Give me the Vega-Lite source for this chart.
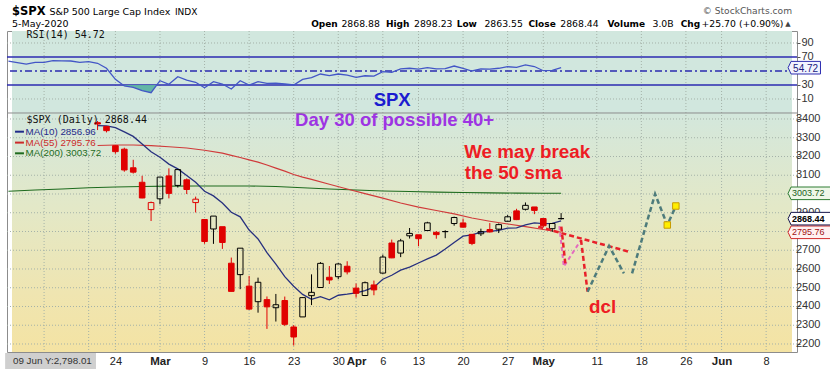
{
"$schema": "https://vega.github.io/schema/vega-lite/v6.json",
"width": 790,
"height": 321,
"autosize": {"type": "none"},
"padding": {"left": 7, "top": 31, "right": 33, "bottom": 17},
"background": "#ffffff",
"config": {"view": {"stroke": "#8c8c8c", "strokeWidth": 1}, "axis": {"labelOverlap": false, "labelBound": false}},
"datasets": {
"panels": [{"panel": "RSI"}, {"panel": "Price"}],
"xticks": [{"idx": -8}, {"idx": -3}, {"idx": 0}, {"idx": 5}, {"idx": 10}, {"idx": 15}, {"idx": 20}, {"idx": 25}, {"idx": 27}, {"idx": 30}, {"idx": 34}, {"idx": 39}, {"idx": 44}, {"idx": 48}, {"idx": 54}, {"idx": 59}, {"idx": 64}, {"idx": 68}, {"idx": 73}],
"pgrid": [{"price": 2200}, {"price": 2300}, {"price": 2400}, {"price": 2500}, {"price": 2600}, {"price": 2700}, {"price": 2800}, {"price": 2900}, {"price": 3000}, {"price": 3100}, {"price": 3200}, {"price": 3300}, {"price": 3400}],
"rsiLevels": [{"rsi": 90, "kind": "grid"}, {"rsi": 70, "kind": "overbought"}, {"rsi": 50, "kind": "mid"}, {"rsi": 30, "kind": "oversold"}, {"rsi": 10, "kind": "grid"}],
"rsi": [{"idx": -12, "rsi": 64.0}, {"idx": -11, "rsi": 62.0}, {"idx": -10, "rsi": 59.8}, {"idx": -9, "rsi": 62.4}, {"idx": -8, "rsi": 62.4}, {"idx": -7, "rsi": 64.7}, {"idx": -6, "rsi": 64.5}, {"idx": -5, "rsi": 64.3}, {"idx": -4, "rsi": 62.4}, {"idx": -3, "rsi": 63.3}, {"idx": -2, "rsi": 61.0}, {"idx": -1, "rsi": 53.9}, {"idx": 0, "rsi": 38.1}, {"idx": 1, "rsi": 28.6}, {"idx": 2, "rsi": 26.7}, {"idx": 3, "rsi": 21.9}, {"idx": 4, "rsi": 19.0}, {"idx": 5, "rsi": 36.1}, {"idx": 6, "rsi": 31.0}, {"idx": 7, "rsi": 41.9}, {"idx": 8, "rsi": 37.1}, {"idx": 9, "rsi": 33.9}, {"idx": 10, "rsi": 26.1}, {"idx": 11, "rsi": 34.7}, {"idx": 12, "rsi": 31.4}, {"idx": 13, "rsi": 24.3}, {"idx": 14, "rsi": 36.1}, {"idx": 15, "rsi": 30.0}, {"idx": 16, "rsi": 34.7}, {"idx": 17, "rsi": 32.4}, {"idx": 18, "rsi": 32.8}, {"idx": 19, "rsi": 31.4}, {"idx": 20, "rsi": 30.0}, {"idx": 21, "rsi": 38.1}, {"idx": 22, "rsi": 40.4}, {"idx": 23, "rsi": 45.7}, {"idx": 24, "rsi": 43.3}, {"idx": 25, "rsi": 45.7}, {"idx": 26, "rsi": 44.0}, {"idx": 27, "rsi": 41.0}, {"idx": 28, "rsi": 43.2}, {"idx": 29, "rsi": 42.6}, {"idx": 30, "rsi": 49.0}, {"idx": 31, "rsi": 48.1}, {"idx": 32, "rsi": 52.9}, {"idx": 33, "rsi": 53.9}, {"idx": 34, "rsi": 52.6}, {"idx": 35, "rsi": 54.7}, {"idx": 36, "rsi": 52.9}, {"idx": 37, "rsi": 53.4}, {"idx": 38, "rsi": 57.1}, {"idx": 39, "rsi": 53.8}, {"idx": 40, "rsi": 50.0}, {"idx": 41, "rsi": 52.9}, {"idx": 42, "rsi": 52.7}, {"idx": 43, "rsi": 53.9}, {"idx": 44, "rsi": 56.1}, {"idx": 45, "rsi": 55.2}, {"idx": 46, "rsi": 58.6}, {"idx": 47, "rsi": 56.4}, {"idx": 48, "rsi": 50.4}, {"idx": 49, "rsi": 51.0}, {"idx": 50, "rsi": 54.72}],
"rsiShade": [{"idx": 0.85, "rsi": 30}, {"idx": 1, "rsi": 28.6}, {"idx": 2, "rsi": 26.7}, {"idx": 3, "rsi": 21.9}, {"idx": 4, "rsi": 19.0}, {"idx": 4.64, "rsi": 30}],
"candles": [
{"idx": -2, "date": "2020-02-20", "open": 3380.39, "high": 3389.15, "low": 3341.02, "close": 3373.23, "vsPrev": "down"},
{"idx": -1, "date": "2020-02-21", "open": 3360.50, "high": 3360.76, "low": 3328.45, "close": 3337.75, "vsPrev": "down"},
{"idx": 0, "date": "2020-02-24", "open": 3257.61, "high": 3259.81, "low": 3214.65, "close": 3225.89, "vsPrev": "down"},
{"idx": 1, "date": "2020-02-25", "open": 3238.94, "high": 3246.99, "low": 3118.77, "close": 3128.21, "vsPrev": "down"},
{"idx": 2, "date": "2020-02-26", "open": 3139.90, "high": 3182.51, "low": 3108.99, "close": 3116.39, "vsPrev": "down"},
{"idx": 3, "date": "2020-02-27", "open": 3062.54, "high": 3097.07, "low": 2977.39, "close": 2978.76, "vsPrev": "down"},
{"idx": 4, "date": "2020-02-28", "open": 2916.90, "high": 2959.72, "low": 2855.84, "close": 2954.22, "vsPrev": "down"},
{"idx": 5, "date": "2020-03-02", "open": 2974.28, "high": 3090.96, "low": 2945.19, "close": 3090.23, "vsPrev": "up"},
{"idx": 6, "date": "2020-03-03", "open": 3096.46, "high": 3136.72, "low": 2976.63, "close": 3003.37, "vsPrev": "down"},
{"idx": 7, "date": "2020-03-04", "open": 3045.75, "high": 3130.97, "low": 3034.38, "close": 3130.12, "vsPrev": "up"},
{"idx": 8, "date": "2020-03-05", "open": 3075.70, "high": 3083.04, "low": 2999.83, "close": 3023.94, "vsPrev": "down"},
{"idx": 9, "date": "2020-03-06", "open": 2954.20, "high": 2985.93, "low": 2901.54, "close": 2972.37, "vsPrev": "down"},
{"idx": 10, "date": "2020-03-09", "open": 2863.89, "high": 2863.89, "low": 2734.43, "close": 2746.56, "vsPrev": "down"},
{"idx": 11, "date": "2020-03-10", "open": 2813.48, "high": 2882.59, "low": 2734.00, "close": 2882.23, "vsPrev": "up"},
{"idx": 12, "date": "2020-03-11", "open": 2825.60, "high": 2825.60, "low": 2707.22, "close": 2741.38, "vsPrev": "down"},
{"idx": 13, "date": "2020-03-12", "open": 2630.86, "high": 2660.95, "low": 2478.86, "close": 2480.64, "vsPrev": "down"},
{"idx": 14, "date": "2020-03-13", "open": 2569.99, "high": 2711.33, "low": 2492.37, "close": 2711.02, "vsPrev": "up"},
{"idx": 15, "date": "2020-03-16", "open": 2508.59, "high": 2562.98, "low": 2380.94, "close": 2386.13, "vsPrev": "down"},
{"idx": 16, "date": "2020-03-17", "open": 2425.66, "high": 2553.93, "low": 2367.04, "close": 2529.19, "vsPrev": "up"},
{"idx": 17, "date": "2020-03-18", "open": 2436.50, "high": 2453.57, "low": 2280.52, "close": 2398.10, "vsPrev": "down"},
{"idx": 18, "date": "2020-03-19", "open": 2393.48, "high": 2466.97, "low": 2319.78, "close": 2409.39, "vsPrev": "up"},
{"idx": 19, "date": "2020-03-20", "open": 2431.94, "high": 2453.01, "low": 2295.56, "close": 2304.92, "vsPrev": "down"},
{"idx": 20, "date": "2020-03-23", "open": 2290.71, "high": 2300.73, "low": 2191.86, "close": 2237.40, "vsPrev": "down"},
{"idx": 21, "date": "2020-03-24", "open": 2344.44, "high": 2449.71, "low": 2344.44, "close": 2447.33, "vsPrev": "up"},
{"idx": 22, "date": "2020-03-25", "open": 2457.77, "high": 2571.42, "low": 2407.53, "close": 2475.56, "vsPrev": "up"},
{"idx": 23, "date": "2020-03-26", "open": 2501.29, "high": 2637.01, "low": 2500.72, "close": 2630.07, "vsPrev": "up"},
{"idx": 24, "date": "2020-03-27", "open": 2555.87, "high": 2615.91, "low": 2520.02, "close": 2541.47, "vsPrev": "down"},
{"idx": 25, "date": "2020-03-30", "open": 2558.98, "high": 2631.80, "low": 2545.28, "close": 2626.65, "vsPrev": "up"},
{"idx": 26, "date": "2020-03-31", "open": 2614.69, "high": 2641.39, "low": 2571.15, "close": 2584.59, "vsPrev": "down"},
{"idx": 27, "date": "2020-04-01", "open": 2498.08, "high": 2522.75, "low": 2447.49, "close": 2470.50, "vsPrev": "down"},
{"idx": 28, "date": "2020-04-02", "open": 2458.54, "high": 2533.22, "low": 2455.79, "close": 2526.90, "vsPrev": "up"},
{"idx": 29, "date": "2020-04-03", "open": 2514.92, "high": 2538.18, "low": 2459.96, "close": 2488.65, "vsPrev": "down"},
{"idx": 30, "date": "2020-04-06", "open": 2578.28, "high": 2676.85, "low": 2574.57, "close": 2663.68, "vsPrev": "up"},
{"idx": 31, "date": "2020-04-07", "open": 2738.65, "high": 2756.89, "low": 2657.67, "close": 2659.41, "vsPrev": "down"},
{"idx": 32, "date": "2020-04-08", "open": 2685.00, "high": 2760.75, "low": 2663.30, "close": 2749.98, "vsPrev": "up"},
{"idx": 33, "date": "2020-04-09", "open": 2776.99, "high": 2818.57, "low": 2762.36, "close": 2789.82, "vsPrev": "up"},
{"idx": 34, "date": "2020-04-13", "open": 2782.46, "high": 2782.46, "low": 2721.17, "close": 2761.63, "vsPrev": "down"},
{"idx": 35, "date": "2020-04-14", "open": 2805.10, "high": 2851.85, "low": 2805.10, "close": 2846.06, "vsPrev": "up"},
{"idx": 36, "date": "2020-04-15", "open": 2795.64, "high": 2801.88, "low": 2761.54, "close": 2783.36, "vsPrev": "down"},
{"idx": 37, "date": "2020-04-16", "open": 2799.34, "high": 2806.51, "low": 2764.32, "close": 2799.55, "vsPrev": "up"},
{"idx": 38, "date": "2020-04-17", "open": 2842.43, "high": 2879.22, "low": 2830.88, "close": 2874.56, "vsPrev": "up"},
{"idx": 39, "date": "2020-04-20", "open": 2845.62, "high": 2868.98, "low": 2820.43, "close": 2823.16, "vsPrev": "down"},
{"idx": 40, "date": "2020-04-21", "open": 2784.81, "high": 2785.54, "low": 2727.10, "close": 2736.56, "vsPrev": "down"},
{"idx": 41, "date": "2020-04-22", "open": 2787.89, "high": 2815.10, "low": 2775.95, "close": 2799.31, "vsPrev": "up"},
{"idx": 42, "date": "2020-04-23", "open": 2810.42, "high": 2844.90, "low": 2794.26, "close": 2797.80, "vsPrev": "down"},
{"idx": 43, "date": "2020-04-24", "open": 2812.64, "high": 2842.71, "low": 2791.76, "close": 2836.74, "vsPrev": "up"},
{"idx": 44, "date": "2020-04-27", "open": 2854.65, "high": 2887.72, "low": 2852.89, "close": 2878.48, "vsPrev": "up"},
{"idx": 45, "date": "2020-04-28", "open": 2909.96, "high": 2921.15, "low": 2860.71, "close": 2863.39, "vsPrev": "down"},
{"idx": 46, "date": "2020-04-29", "open": 2918.46, "high": 2954.86, "low": 2912.16, "close": 2939.51, "vsPrev": "up"},
{"idx": 47, "date": "2020-04-30", "open": 2930.91, "high": 2930.91, "low": 2892.47, "close": 2912.43, "vsPrev": "down"},
{"idx": 48, "date": "2020-05-01", "open": 2869.09, "high": 2869.09, "low": 2821.61, "close": 2830.71, "vsPrev": "down"},
{"idx": 49, "date": "2020-05-04", "open": 2815.01, "high": 2844.24, "low": 2797.85, "close": 2842.74, "vsPrev": "up"},
{"idx": 50, "date": "2020-05-05", "open": 2868.88, "high": 2898.23, "low": 2863.55, "close": 2868.44, "vsPrev": "up"}
],
"ma10": [{"idx": -2, "v": 3364.66}, {"idx": -1, "v": 3363.85}, {"idx": 0, "v": 3353.67}, {"idx": 1, "v": 3331.28}, {"idx": 2, "v": 3307.15}, {"idx": 3, "v": 3267.08}, {"idx": 4, "v": 3225.11}, {"idx": 5, "v": 3196.11}, {"idx": 6, "v": 3159.42}, {"idx": 7, "v": 3133.82}, {"idx": 8, "v": 3098.89}, {"idx": 9, "v": 3062.35}, {"idx": 10, "v": 3014.42}, {"idx": 11, "v": 2989.82}, {"idx": 12, "v": 2952.32}, {"idx": 13, "v": 2902.51}, {"idx": 14, "v": 2878.19}, {"idx": 15, "v": 2807.78}, {"idx": 16, "v": 2760.36}, {"idx": 17, "v": 2687.16}, {"idx": 18, "v": 2625.70}, {"idx": 19, "v": 2558.96}, {"idx": 20, "v": 2508.04}, {"idx": 21, "v": 2464.55}, {"idx": 22, "v": 2437.97}, {"idx": 23, "v": 2452.91}, {"idx": 24, "v": 2435.96}, {"idx": 25, "v": 2460.01}, {"idx": 26, "v": 2465.55}, {"idx": 27, "v": 2472.79}, {"idx": 28, "v": 2484.54}, {"idx": 29, "v": 2502.91}, {"idx": 30, "v": 2545.54}, {"idx": 31, "v": 2566.75}, {"idx": 32, "v": 2594.19}, {"idx": 33, "v": 2610.17}, {"idx": 34, "v": 2632.18}, {"idx": 35, "v": 2654.12}, {"idx": 36, "v": 2674.00}, {"idx": 37, "v": 2706.90}, {"idx": 38, "v": 2741.67}, {"idx": 39, "v": 2775.12}, {"idx": 40, "v": 2782.41}, {"idx": 41, "v": 2796.40}, {"idx": 42, "v": 2801.18}, {"idx": 43, "v": 2805.87}, {"idx": 44, "v": 2817.56}, {"idx": 45, "v": 2819.29}, {"idx": 46, "v": 2834.91}, {"idx": 47, "v": 2846.19}, {"idx": 48, "v": 2841.81}, {"idx": 49, "v": 2843.77}, {"idx": 50, "v": 2856.96}],
"ma55": [{"idx": -2, "v": 3259}, {"idx": 0, "v": 3261}, {"idx": 2, "v": 3261}, {"idx": 4, "v": 3258}, {"idx": 6, "v": 3252}, {"idx": 8, "v": 3245}, {"idx": 10, "v": 3233}, {"idx": 12, "v": 3218}, {"idx": 13, "v": 3206}, {"idx": 14, "v": 3195}, {"idx": 15, "v": 3182}, {"idx": 16, "v": 3170}, {"idx": 17, "v": 3155}, {"idx": 18, "v": 3138}, {"idx": 19, "v": 3122}, {"idx": 20, "v": 3104}, {"idx": 21, "v": 3090}, {"idx": 22, "v": 3078}, {"idx": 24, "v": 3052}, {"idx": 26, "v": 3027}, {"idx": 28, "v": 3002}, {"idx": 30, "v": 2978}, {"idx": 32, "v": 2952}, {"idx": 34, "v": 2930}, {"idx": 36, "v": 2912}, {"idx": 38, "v": 2894}, {"idx": 40, "v": 2872}, {"idx": 42, "v": 2855}, {"idx": 44, "v": 2840}, {"idx": 46, "v": 2826}, {"idx": 48, "v": 2811}, {"idx": 50, "v": 2795.76}],
"ma200": [{"idx": -12, "v": 3015}, {"idx": -9, "v": 3021}, {"idx": -6, "v": 3027}, {"idx": -3, "v": 3033}, {"idx": 0, "v": 3037}, {"idx": 3, "v": 3040}, {"idx": 6, "v": 3042}, {"idx": 9, "v": 3043}, {"idx": 12, "v": 3043}, {"idx": 15, "v": 3043}, {"idx": 18, "v": 3040}, {"idx": 21, "v": 3033}, {"idx": 24, "v": 3027}, {"idx": 27, "v": 3021}, {"idx": 30, "v": 3016}, {"idx": 33, "v": 3013}, {"idx": 36, "v": 3010}, {"idx": 39, "v": 3008}, {"idx": 42, "v": 3006}, {"idx": 45, "v": 3004.5}, {"idx": 48, "v": 3003.8}, {"idx": 50, "v": 3003.72}],
"maLegend": [{"series": "MA(10)", "label": "MA(10) 2856.96", "price": 3332.3}, {"series": "MA(55)", "label": "MA(55) 2795.76", "price": 3274.1}, {"series": "MA(200)", "label": "MA(200) 3003.72", "price": 3217}],
"priceLegend": [{"label": "$SPX (Daily) 2868.44", "idx": -9.97, "price": 3393.1}],
"rsiLegend": [{"label": "RSI(14) 54.72", "idx": -9.97, "rsi": 101.4}],
"rsiNote": [{"text": "SPX", "idx": 31.05, "rsi": -0.43}],
"notes": [{"kind": "count", "text": "Day 30 of possible 40+", "idx": 31.32, "price": 3365.3}, {"kind": "call", "text": "We may break", "idx": 39.13, "price": 3192}, {"kind": "call", "text": "the 50 sma", "idx": 39.19, "price": 3080}, {"kind": "call", "text": "dcl", "idx": 53.14, "price": 2363.7}],
"header": [
{"kind": "symbol", "text": "$SPX", "idx": -11.6, "price": 3954.7},
{"kind": "name", "text": "S&P 500 Large Cap Index", "idx": -7.39, "price": 3954.7},
{"kind": "exchange", "text": "INDX", "idx": 6.68, "price": 3954.7},
{"kind": "date", "text": "5-May-2020", "idx": -11.6, "price": 3892.3},
{"kind": "credit", "text": "© StockCharts.com", "idx": 75.9, "price": 3960},
{"kind": "field", "text": "Open", "idx": 21.96, "price": 3892.3},
{"kind": "value", "text": "2868.88", "idx": 25.35, "price": 3892.3},
{"kind": "field", "text": "High", "idx": 30.35, "price": 3892.3},
{"kind": "value", "text": "2898.23", "idx": 33.5, "price": 3892.3},
{"kind": "field", "text": "Low", "idx": 38.28, "price": 3892.3},
{"kind": "value", "text": "2863.55", "idx": 41.4, "price": 3892.3},
{"kind": "field", "text": "Close", "idx": 46.33, "price": 3892.3},
{"kind": "value", "text": "2868.44", "idx": 49.9, "price": 3892.3},
{"kind": "field", "text": "Volume", "idx": 55.19, "price": 3892.3},
{"kind": "value", "text": "3.0B", "idx": 60.25, "price": 3892.3},
{"kind": "field", "text": "Chg", "idx": 63.42, "price": 3892.3},
{"kind": "value", "text": "+25.70 (+0.90%)", "idx": 65.75, "price": 3892.3},
{"kind": "arrow", "text": "▲", "idx": 75.13, "price": 3895}
],
"forecast": [
{"path": "trend line", "order": 1, "idx": 47.44, "price": 2825.6},
{"path": "trend line", "order": 2, "idx": 57.6, "price": 2692.3},
{"path": "drop 1", "order": 1, "idx": 50.02, "price": 2825.6},
{"path": "drop 1", "order": 2, "idx": 50.5, "price": 2616},
{"path": "alt path", "order": 1, "idx": 49.8, "price": 2829},
{"path": "alt path", "order": 2, "idx": 50.3, "price": 2613},
{"path": "alt path", "order": 3, "idx": 52.23, "price": 2754.7},
{"path": "drop 2", "order": 1, "idx": 52.23, "price": 2754.7},
{"path": "drop 2", "order": 2, "idx": 52.97, "price": 2478.9},
{"path": "rebound 1", "order": 1, "idx": 52.97, "price": 2478.9},
{"path": "rebound 1", "order": 2, "idx": 55.38, "price": 2722.7},
{"path": "rebound 1", "order": 3, "idx": 57.04, "price": 2577.1},
{"path": "rebound 2", "order": 1, "idx": 57.96, "price": 2577.1},
{"path": "rebound 2", "order": 2, "idx": 60.54, "price": 3000},
{"path": "rebound 2", "order": 3, "idx": 61.91, "price": 2834.7},
{"path": "rebound 2", "order": 4, "idx": 62.87, "price": 2936}
],
"targets": [{"idx": 61.91, "price": 2834.7}, {"idx": 62.87, "price": 2936}],
"rsiFlag": [{"rsi": 54.72, "label": "54.72"}],
"priceFlags": [{"series": "MA(200)", "price": 3003.72, "label": "3003.72"}, {"series": "MA(55)", "price": 2795.76, "label": "2795.76"}, {"series": "Close", "price": 2868.44, "label": "2868.44"}],
"cursor": [{"label": "09 Jun Y:2,798.01"}]
},
"layer": [
{
"layer": [
{"data": {"name": "panels"}, "transform": [{"filter": "datum.panel == 'RSI'"}], "mark": {"type": "rect", "color": "#d1e7de"},
 "encoding": {"x": {"datum": -11.6, "type": "quantitative", "scale": {"domain": [-11.6, 75.9], "nice": false, "zero": false}}, "x2": {"datum": 75.9}, "y": {"datum": 107.14, "type": "quantitative", "scale": {"domain": [-351.43, 107.14], "nice": false, "zero": false}}, "y2": {"datum": -10}}},
{"data": {"name": "panels"}, "transform": [{"filter": "datum.panel == 'Price'"}], "mark": {"type": "rect", "color": {"gradient": "linear", "x1": 0, "y1": 0, "x2": 0, "y2": 1, "stops": [{"offset": 0, "color": "#d3e7dc"}, {"offset": 0.4, "color": "#e3e8c7"}, {"offset": 0.75, "color": "#efe5b1"}, {"offset": 1, "color": "#f4e3a3"}]}},
 "encoding": {"x": {"datum": -11.6, "type": "quantitative", "scale": {"domain": [-11.6, 75.9], "nice": false, "zero": false}}, "x2": {"datum": 75.9}, "y": {"datum": -10, "type": "quantitative", "scale": {"domain": [-351.43, 107.14], "nice": false, "zero": false}}, "y2": {"datum": -351.43}}},
{"data": {"name": "xticks"}, "mark": {"type": "rule", "color": "#a4b2a8", "strokeWidth": 1, "strokeDash": [1, 2]},
 "encoding": {"x": {"field": "idx", "type": "quantitative", "scale": {"domain": [-11.6, 75.9], "nice": false, "zero": false}}}},
{"data": {"name": "rsiLevels"}, "transform": [{"filter": "datum.kind == 'grid'"}], "mark": {"type": "rule", "color": "#a4b2a8", "strokeWidth": 1, "strokeDash": [1, 2]},
 "encoding": {"y": {"field": "rsi", "type": "quantitative", "scale": {"domain": [-351.43, 107.14], "nice": false, "zero": false},
   "axis": {"orient": "right", "values": [10, 30, 70, 90], "format": "d", "labelOverlap": false, "grid": false, "domain": false, "ticks": true, "tickSize": 3, "tickColor": "#555555", "labelFont": "Liberation Sans", "labelFontSize": 11, "labelColor": "#333333", "labelPadding": 1, "title": null}}}},
{"data": {"name": "rsiLevels"}, "transform": [{"filter": {"field": "kind", "oneOf": ["overbought", "oversold"]}}], "mark": {"type": "rule", "color": "#2b2bb0", "strokeWidth": 1.4},
 "encoding": {"y": {"field": "rsi", "type": "quantitative", "scale": {"domain": [-351.43, 107.14], "nice": false, "zero": false}}}},
{"data": {"name": "rsiLevels"}, "transform": [{"filter": "datum.kind == 'mid'"}], "mark": {"type": "rule", "color": "#2b2bb0", "strokeWidth": 1.3, "strokeDash": [7, 3, 2, 3]},
 "encoding": {"y": {"field": "rsi", "type": "quantitative", "scale": {"domain": [-351.43, 107.14], "nice": false, "zero": false}}}},
{"data": {"name": "rsiShade"}, "mark": {"type": "area", "color": "#5db3a3", "opacity": 0.95},
 "encoding": {"x": {"field": "idx", "type": "quantitative", "scale": {"domain": [-11.6, 75.9], "nice": false, "zero": false}}, "y": {"field": "rsi", "type": "quantitative", "scale": {"domain": [-351.43, 107.14], "nice": false, "zero": false}}, "y2": {"datum": 30}}},
{"data": {"name": "rsi"}, "mark": {"type": "line", "color": "#4356c6", "strokeWidth": 1.3, "clip": true},
 "encoding": {"x": {"field": "idx", "type": "quantitative", "scale": {"domain": [-11.6, 75.9], "nice": false, "zero": false}},
  "y": {"field": "rsi", "type": "quantitative", "scale": {"domain": [-351.43, 107.14], "nice": false, "zero": false}}}},
{"data": {"name": "rsiLegend"}, "mark": {"type": "text", "align": "left", "baseline": "middle", "font": "DejaVu Sans Mono", "fontSize": 10, "color": "#111111"},
 "encoding": {"x": {"field": "idx", "type": "quantitative", "scale": {"domain": [-11.6, 75.9], "nice": false, "zero": false}}, "y": {"field": "rsi", "type": "quantitative", "scale": {"domain": [-351.43, 107.14], "nice": false, "zero": false}}, "text": {"field": "label"}}},
{"data": {"name": "rsiNote"}, "mark": {"type": "text", "align": "center", "baseline": "alphabetic", "font": "Liberation Sans", "fontWeight": "bold", "fontSize": 18.5, "color": "#1c1cd0"},
 "encoding": {"x": {"field": "idx", "type": "quantitative", "scale": {"domain": [-11.6, 75.9], "nice": false, "zero": false}}, "y": {"field": "rsi", "type": "quantitative", "scale": {"domain": [-351.43, 107.14], "nice": false, "zero": false}}, "text": {"field": "text"}}},
{"data": {"name": "rsiFlag"}, "mark": {"type": "point", "shape": "M0,0L0.5,-1.05L5.4,-1.05L5.4,1.05L0.5,1.05Z", "size": 144, "filled": true, "fill": "#f2f4ff", "stroke": "#2d2db0", "strokeWidth": 1, "opacity": 1},
 "encoding": {"x": {"datum": 75.46, "type": "quantitative", "scale": {"domain": [-11.6, 75.9], "nice": false, "zero": false}}, "y": {"field": "rsi", "type": "quantitative", "scale": {"domain": [-351.43, 107.14], "nice": false, "zero": false}}}},
{"data": {"name": "rsiFlag"}, "mark": {"type": "text", "align": "left", "baseline": "middle", "dx": 5, "dy": 1, "font": "Liberation Sans", "fontSize": 10, "color": "#1a1a80"},
 "encoding": {"x": {"datum": 75.46, "type": "quantitative", "scale": {"domain": [-11.6, 75.9], "nice": false, "zero": false}}, "y": {"field": "rsi", "type": "quantitative", "scale": {"domain": [-351.43, 107.14], "nice": false, "zero": false}}, "text": {"field": "label"}}}
]
},
{
"layer": [
{"data": {"name": "pgrid"}, "mark": {"type": "rule", "color": "#a4b2a8", "strokeWidth": 1, "strokeDash": [1, 2]},
 "encoding": {"y": {"field": "price", "type": "quantitative", "scale": {"domain": [2157.33, 3869.33], "nice": false, "zero": false},
   "axis": {"orient": "right", "values": [2200, 2300, 2400, 2500, 2600, 2700, 2800, 2900, 3000, 3100, 3200, 3300, 3400], "labels": false, "grid": false, "domain": false, "ticks": true, "tickSize": 3, "tickColor": "#555555", "title": null}}}},
{"data": {"name": "pgrid"}, "transform": [{"filter": "datum.price != 2800 && datum.price != 3000"}], "mark": {"type": "text", "align": "left", "baseline": "middle", "dx": 4, "font": "Liberation Sans", "fontSize": 11, "color": "#333333"},
 "encoding": {"x": {"datum": 75.9, "type": "quantitative", "scale": {"domain": [-11.6, 75.9], "nice": false, "zero": false}}, "y": {"field": "price", "type": "quantitative", "scale": {"domain": [2157.33, 3869.33], "nice": false, "zero": false}}, "text": {"field": "price", "type": "quantitative", "format": "d"}}},
{"data": {"name": "ma200"}, "mark": {"type": "line", "color": "#1e6b1e", "strokeWidth": 1.1, "clip": true},
 "encoding": {"x": {"field": "idx", "type": "quantitative", "scale": {"domain": [-11.6, 75.9], "nice": false, "zero": false}}, "y": {"field": "v", "type": "quantitative", "scale": {"domain": [2157.33, 3869.33], "nice": false, "zero": false}}}},
{"data": {"name": "ma55"}, "mark": {"type": "line", "color": "#d03a3a", "strokeWidth": 1.1},
 "encoding": {"x": {"field": "idx", "type": "quantitative", "scale": {"domain": [-11.6, 75.9], "nice": false, "zero": false}}, "y": {"field": "v", "type": "quantitative", "scale": {"domain": [2157.33, 3869.33], "nice": false, "zero": false}}}},
{"data": {"name": "ma10"}, "mark": {"type": "line", "color": "#27307f", "strokeWidth": 1.3},
 "encoding": {"x": {"field": "idx", "type": "quantitative", "scale": {"domain": [-11.6, 75.9], "nice": false, "zero": false}}, "y": {"field": "v", "type": "quantitative", "scale": {"domain": [2157.33, 3869.33], "nice": false, "zero": false}}}},
{"data": {"name": "candles"},
 "transform": [{"fold": ["open", "close"], "as": ["side", "v"]}, {"aggregate": [{"op": "max", "field": "v", "as": "bodyTop"}, {"op": "min", "field": "v", "as": "bodyBot"}], "groupby": ["idx", "high", "low", "vsPrev"]}],
 "layer": [
  {"mark": {"type": "rule", "strokeWidth": 1},
   "encoding": {"x": {"field": "idx", "type": "quantitative", "scale": {"domain": [-11.6, 75.9], "nice": false, "zero": false}}, "y": {"field": "bodyTop", "type": "quantitative", "scale": {"domain": [2157.33, 3869.33], "nice": false, "zero": false}}, "y2": {"field": "high"},
    "color": {"condition": {"test": "datum.vsPrev == 'up'", "value": "#000000"}, "value": "#e00000"}}},
  {"mark": {"type": "rule", "strokeWidth": 1},
   "encoding": {"x": {"field": "idx", "type": "quantitative", "scale": {"domain": [-11.6, 75.9], "nice": false, "zero": false}}, "y": {"field": "low", "type": "quantitative", "scale": {"domain": [2157.33, 3869.33], "nice": false, "zero": false}}, "y2": {"field": "bodyBot"},
    "color": {"condition": {"test": "datum.vsPrev == 'up'", "value": "#000000"}, "value": "#e00000"}}}
 ]},
{"data": {"name": "candles"}, "mark": {"type": "bar", "size": 5.6, "strokeWidth": 1, "opacity": 1},
 "encoding": {
  "x": {"field": "idx", "type": "quantitative", "scale": {"domain": [-11.6, 75.9], "nice": false, "zero": false},
   "axis": {"orient": "bottom", "values": [0, 5, 10, 15, 20, 25, 27, 30, 34, 39, 44, 48, 54, 59, 64, 68, 73],
    "labelExpr": "['24','Mar','9','16','23','30','Apr','6','13','20','27','May','11','18','26','Jun','8'][indexof([0,5,10,15,20,25,27,30,34,39,44,48,54,59,64,68,73], datum.value)]",
    "grid": false, "ticks": false, "domain": false, "labelFont": "Liberation Sans", "labelColor": "#222222", "labelPadding": 3, "labelOverlap": false, "labelFlush": false, "title": null,
    "labelFontSize": {"condition": {"test": "indexof([5,27,48,68], datum.value) >= 0", "value": 11.5}, "value": 11},
    "labelFontWeight": {"condition": {"test": "indexof([5,27,48,68], datum.value) >= 0", "value": "bold"}, "value": "normal"}}},
  "y": {"field": "open", "type": "quantitative", "scale": {"domain": [2157.33, 3869.33], "nice": false, "zero": false}},
  "y2": {"field": "close"},
  "fill": {"condition": [{"test": "datum.close >= datum.open", "value": "transparent"}, {"test": "datum.vsPrev == 'up'", "value": "#000000"}], "value": "#e00000"},
  "stroke": {"condition": {"test": "datum.vsPrev == 'up'", "value": "#000000"}, "value": "#e00000"}}},
{"data": {"name": "forecast"}, "transform": [{"filter": {"field": "path", "oneOf": ["alt path"]}}], "mark": {"type": "line", "color": "#e46bbf", "strokeWidth": 2, "strokeDash": [4, 3]},
 "encoding": {"x": {"field": "idx", "type": "quantitative", "scale": {"domain": [-11.6, 75.9], "nice": false, "zero": false}}, "y": {"field": "price", "type": "quantitative", "scale": {"domain": [2157.33, 3869.33], "nice": false, "zero": false}}, "detail": {"field": "path"}, "order": {"field": "order"}}},
{"data": {"name": "forecast"}, "transform": [{"filter": {"field": "path", "oneOf": ["trend line", "drop 1", "drop 2"]}}], "mark": {"type": "line", "color": "#e8202a", "strokeWidth": 2.5, "strokeDash": [5, 3]},
 "encoding": {"x": {"field": "idx", "type": "quantitative", "scale": {"domain": [-11.6, 75.9], "nice": false, "zero": false}}, "y": {"field": "price", "type": "quantitative", "scale": {"domain": [2157.33, 3869.33], "nice": false, "zero": false}}, "detail": {"field": "path"}, "order": {"field": "order"}}},
{"data": {"name": "forecast"}, "transform": [{"filter": {"field": "path", "oneOf": ["rebound 1", "rebound 2"]}}], "mark": {"type": "line", "color": "#4d7b7b", "strokeWidth": 2.5, "strokeDash": [5, 3]},
 "encoding": {"x": {"field": "idx", "type": "quantitative", "scale": {"domain": [-11.6, 75.9], "nice": false, "zero": false}}, "y": {"field": "price", "type": "quantitative", "scale": {"domain": [2157.33, 3869.33], "nice": false, "zero": false}}, "detail": {"field": "path"}, "order": {"field": "order"}}},
{"data": {"name": "targets"}, "mark": {"type": "point", "shape": "square", "size": 42, "filled": true, "fill": "#ffee00", "stroke": "#c89b00", "strokeWidth": 1, "opacity": 1},
 "encoding": {"x": {"field": "idx", "type": "quantitative", "scale": {"domain": [-11.6, 75.9], "nice": false, "zero": false}}, "y": {"field": "price", "type": "quantitative", "scale": {"domain": [2157.33, 3869.33], "nice": false, "zero": false}}}},
{"data": {"name": "maLegend"}, "mark": {"type": "rule", "strokeWidth": 2},
 "encoding": {"x": {"datum": -11.26, "type": "quantitative", "scale": {"domain": [-11.6, 75.9], "nice": false, "zero": false}}, "x2": {"datum": -10.26}, "y": {"field": "price", "type": "quantitative", "scale": {"domain": [2157.33, 3869.33], "nice": false, "zero": false}},
  "color": {"field": "series", "type": "nominal", "scale": {"domain": ["MA(10)", "MA(55)", "MA(200)"], "range": ["#1f2a8a", "#cc2a2a", "#1e6b1e"]}, "legend": null}}},
{"data": {"name": "maLegend"}, "mark": {"type": "text", "align": "left", "baseline": "middle", "font": "Liberation Sans", "fontSize": 9.8},
 "encoding": {"x": {"datum": -10.08, "type": "quantitative", "scale": {"domain": [-11.6, 75.9], "nice": false, "zero": false}}, "y": {"field": "price", "type": "quantitative", "scale": {"domain": [2157.33, 3869.33], "nice": false, "zero": false}}, "text": {"field": "label"},
  "color": {"field": "series", "type": "nominal", "scale": {"domain": ["MA(10)", "MA(55)", "MA(200)"], "range": ["#1f2a8a", "#cc2a2a", "#1e6b1e"]}, "legend": null}}},
{"data": {"name": "priceLegend"}, "mark": {"type": "text", "align": "left", "baseline": "middle", "font": "DejaVu Sans Mono", "fontSize": 10, "color": "#111111"},
 "encoding": {"x": {"field": "idx", "type": "quantitative", "scale": {"domain": [-11.6, 75.9], "nice": false, "zero": false}}, "y": {"field": "price", "type": "quantitative", "scale": {"domain": [2157.33, 3869.33], "nice": false, "zero": false}}, "text": {"field": "label"}}},
{"data": {"name": "notes"}, "transform": [{"filter": "datum.kind == 'count'"}], "mark": {"type": "text", "align": "center", "baseline": "alphabetic", "font": "Liberation Sans", "fontWeight": "bold", "fontSize": 18.5, "color": "#9e34e3"},
 "encoding": {"x": {"field": "idx", "type": "quantitative", "scale": {"domain": [-11.6, 75.9], "nice": false, "zero": false}}, "y": {"field": "price", "type": "quantitative", "scale": {"domain": [2157.33, 3869.33], "nice": false, "zero": false}}, "text": {"field": "text"}}},
{"data": {"name": "notes"}, "transform": [{"filter": "datum.kind == 'call'"}], "mark": {"type": "text", "align": "left", "baseline": "alphabetic", "font": "Liberation Sans", "fontWeight": "bold", "fontSize": 18.8, "color": "#ee1c24"},
 "encoding": {"x": {"field": "idx", "type": "quantitative", "scale": {"domain": [-11.6, 75.9], "nice": false, "zero": false}}, "y": {"field": "price", "type": "quantitative", "scale": {"domain": [2157.33, 3869.33], "nice": false, "zero": false}}, "text": {"field": "text"}}},
{"data": {"name": "header"}, "transform": [{"filter": "datum.kind == 'symbol'"}], "mark": {"type": "text", "align": "left", "baseline": "alphabetic", "font": "DejaVu Sans", "fontWeight": "bold", "fontSize": 11.5, "color": "#000000"},
 "encoding": {"x": {"field": "idx", "type": "quantitative", "scale": {"domain": [-11.6, 75.9], "nice": false, "zero": false}}, "y": {"field": "price", "type": "quantitative", "scale": {"domain": [2157.33, 3869.33], "nice": false, "zero": false}}, "text": {"field": "text"}}},
{"data": {"name": "header"}, "transform": [{"filter": {"field": "kind", "oneOf": ["name", "date"]}}], "mark": {"type": "text", "align": "left", "baseline": "alphabetic", "font": "DejaVu Sans", "fontSize": 9.5, "color": "#000000"},
 "encoding": {"x": {"field": "idx", "type": "quantitative", "scale": {"domain": [-11.6, 75.9], "nice": false, "zero": false}}, "y": {"field": "price", "type": "quantitative", "scale": {"domain": [2157.33, 3869.33], "nice": false, "zero": false}}, "text": {"field": "text"}}},
{"data": {"name": "header"}, "transform": [{"filter": "datum.kind == 'exchange'"}], "mark": {"type": "text", "align": "left", "baseline": "alphabetic", "font": "DejaVu Sans", "fontSize": 9, "color": "#000000"},
 "encoding": {"x": {"field": "idx", "type": "quantitative", "scale": {"domain": [-11.6, 75.9], "nice": false, "zero": false}}, "y": {"field": "price", "type": "quantitative", "scale": {"domain": [2157.33, 3869.33], "nice": false, "zero": false}}, "text": {"field": "text"}}},
{"data": {"name": "header"}, "transform": [{"filter": "datum.kind == 'credit'"}], "mark": {"type": "text", "align": "right", "baseline": "alphabetic", "font": "DejaVu Sans", "fontSize": 9.1, "color": "#555555"},
 "encoding": {"x": {"field": "idx", "type": "quantitative", "scale": {"domain": [-11.6, 75.9], "nice": false, "zero": false}}, "y": {"field": "price", "type": "quantitative", "scale": {"domain": [2157.33, 3869.33], "nice": false, "zero": false}}, "text": {"field": "text"}}},
{"data": {"name": "header"}, "transform": [{"filter": "datum.kind == 'field'"}], "mark": {"type": "text", "align": "left", "baseline": "alphabetic", "font": "DejaVu Sans", "fontWeight": "bold", "fontSize": 9, "color": "#000000"},
 "encoding": {"x": {"field": "idx", "type": "quantitative", "scale": {"domain": [-11.6, 75.9], "nice": false, "zero": false}}, "y": {"field": "price", "type": "quantitative", "scale": {"domain": [2157.33, 3869.33], "nice": false, "zero": false}}, "text": {"field": "text"}}},
{"data": {"name": "header"}, "transform": [{"filter": "datum.kind == 'value'"}], "mark": {"type": "text", "align": "left", "baseline": "alphabetic", "font": "DejaVu Sans", "fontSize": 9.3, "color": "#000000"},
 "encoding": {"x": {"field": "idx", "type": "quantitative", "scale": {"domain": [-11.6, 75.9], "nice": false, "zero": false}}, "y": {"field": "price", "type": "quantitative", "scale": {"domain": [2157.33, 3869.33], "nice": false, "zero": false}}, "text": {"field": "text"}}},
{"data": {"name": "header"}, "transform": [{"filter": "datum.kind == 'arrow'"}], "mark": {"type": "text", "align": "left", "baseline": "alphabetic", "font": "DejaVu Sans", "fontSize": 7, "color": "#444444"},
 "encoding": {"x": {"field": "idx", "type": "quantitative", "scale": {"domain": [-11.6, 75.9], "nice": false, "zero": false}}, "y": {"field": "price", "type": "quantitative", "scale": {"domain": [2157.33, 3869.33], "nice": false, "zero": false}}, "text": {"field": "text"}}},
{"data": {"name": "panels"}, "transform": [{"filter": "datum.panel == 'Price'"}], "mark": {"type": "rule", "color": "#8c8c8c", "strokeWidth": 1},
 "encoding": {"y": {"datum": 3432, "type": "quantitative", "scale": {"domain": [2157.33, 3869.33], "nice": false, "zero": false}}}},
{"data": {"name": "priceFlags"}, "mark": {"type": "point", "shape": "M0,0L0.5,-1.05L8,-1.05L8,1.05L0.5,1.05Z", "size": 144, "filled": true, "strokeWidth": 1, "opacity": 1},
 "encoding": {"x": {"datum": 75.46, "type": "quantitative", "scale": {"domain": [-11.6, 75.9], "nice": false, "zero": false}}, "y": {"field": "price", "type": "quantitative", "scale": {"domain": [2157.33, 3869.33], "nice": false, "zero": false}},
  "fill": {"condition": [{"test": "datum.series == 'MA(200)'", "value": "#eef7e8"}, {"test": "datum.series == 'MA(55)'", "value": "#fff1f1"}], "value": "#ffffff"},
  "stroke": {"condition": [{"test": "datum.series == 'MA(200)'", "value": "#2e7d32"}, {"test": "datum.series == 'MA(55)'", "value": "#d02828"}], "value": "#15154a"}}},
{"data": {"name": "priceFlags"}, "transform": [{"filter": "datum.series != 'Close'"}], "mark": {"type": "text", "align": "left", "baseline": "middle", "dx": 4, "font": "Liberation Sans", "fontSize": 9},
 "encoding": {"x": {"datum": 75.46, "type": "quantitative", "scale": {"domain": [-11.6, 75.9], "nice": false, "zero": false}}, "y": {"field": "price", "type": "quantitative", "scale": {"domain": [2157.33, 3869.33], "nice": false, "zero": false}}, "text": {"field": "label"},
  "color": {"condition": {"test": "datum.series == 'MA(200)'", "value": "#1b5e20"}, "value": "#a01010"}}},
{"data": {"name": "priceFlags"}, "transform": [{"filter": "datum.series == 'Close'"}], "mark": {"type": "text", "align": "left", "baseline": "middle", "dx": 4, "font": "Liberation Sans", "fontWeight": "bold", "fontSize": 9, "color": "#000000"},
 "encoding": {"x": {"datum": 75.46, "type": "quantitative", "scale": {"domain": [-11.6, 75.9], "nice": false, "zero": false}}, "y": {"field": "price", "type": "quantitative", "scale": {"domain": [2157.33, 3869.33], "nice": false, "zero": false}}, "text": {"field": "label"}}},
{"data": {"name": "cursor"}, "mark": {"type": "rect", "color": "#cfcfcf"},
 "encoding": {"x": {"datum": -12.37, "type": "quantitative", "scale": {"domain": [-11.6, 75.9], "nice": false, "zero": false}}, "x2": {"datum": -2.18}, "y": {"datum": 2152, "type": "quantitative", "scale": {"domain": [2157.33, 3869.33], "nice": false, "zero": false}}, "y2": {"datum": 2066.7}}},
{"data": {"name": "cursor"}, "mark": {"type": "text", "align": "left", "baseline": "middle", "font": "Liberation Sans", "fontSize": 9.8, "color": "#333333"},
 "encoding": {"x": {"datum": -11.49, "type": "quantitative", "scale": {"domain": [-11.6, 75.9], "nice": false, "zero": false}}, "y": {"datum": 2109.3, "type": "quantitative", "scale": {"domain": [2157.33, 3869.33], "nice": false, "zero": false}}, "text": {"field": "label"}}}
]
}
],
"resolve": {"scale": {"y": "independent"}, "axis": {"y": "independent"}}
}
